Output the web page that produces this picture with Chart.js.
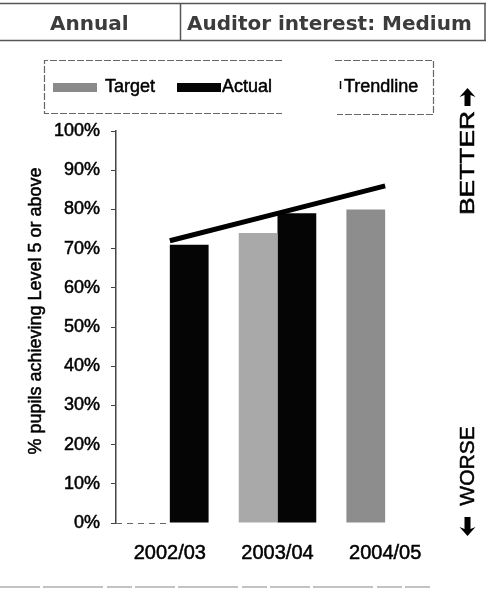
<!DOCTYPE html>
<html>
<head>
<meta charset="utf-8">
<script src="https://cdn.jsdelivr.net/npm/chart.js@4/dist/chart.umd.min.js"></script>
<style>
  html, body { margin: 0; padding: 0; background: #fff; }
  #wrap { width: 489px; height: 591px; position: relative; }
</style>
</head>
<body>
<div id="wrap"><canvas id="c" width="489" height="591"></canvas></div>
<script>
// School years shown on the x axis
const years = ['2002/03', '2003/04', '2004/05'];
// % pupils achieving Level 5 or above
const targetValues = [null, 74, 80];
const actualValues = [71, 79, null];
const trendValues = [72, 79, 86];
// y axis ticks
const yTicks = [0, 10, 20, 30, 40, 50, 60, 70, 80, 90, 100];

const frequency = 'Annual';
const interest = 'Auditor interest: Medium';
const yTitle = '% pupils achieving Level 5 or above';

const SANS = '"Liberation Sans", Arial, sans-serif';

// fill plus a hairline stroke so the lettering reads a little heavier
function heavyText(ctx, text, x, y, w) {
  ctx.lineWidth = w || 0.5;
  ctx.strokeStyle = ctx.fillStyle;
  ctx.strokeText(text, x, y);
  ctx.fillText(text, x, y);
}

// Header strip with frequency and auditor interest
const headerPlugin = {
  id: 'header',
  beforeDraw(chart) {
    const ctx = chart.ctx;
    ctx.save();
    ctx.strokeStyle = '#555';
    ctx.lineWidth = 1.5;
    ctx.beginPath();
    ctx.moveTo(0, 3.5); ctx.lineTo(486, 3.5);
    ctx.moveTo(0, 40.5); ctx.lineTo(486, 40.5);
    ctx.moveTo(180.5, 3.5); ctx.lineTo(180.5, 40.5);
    ctx.moveTo(485, 3.5); ctx.lineTo(485, 40.5);
    ctx.stroke();
    ctx.fillStyle = '#3c3c3c';
    ctx.font = 'bold 20px "DejaVu Sans", sans-serif';
    ctx.textBaseline = 'alphabetic';
    ctx.textAlign = 'left';
    ctx.fillText(frequency, 50, 30);
    ctx.fillText(interest, 187, 30);
    ctx.restore();
  }
};

// Legend box built from the dataset labels and colours
const legendPlugin = {
  id: 'boxLegend',
  afterDraw(chart) {
    const ctx = chart.ctx;
    const ds = chart.data.datasets;
    ctx.save();
    ctx.strokeStyle = '#666';
    ctx.lineWidth = 1.2;
    ctx.setLineDash([7, 2]);
    ctx.beginPath();
    ctx.moveTo(282, 60.5); ctx.lineTo(44.5, 60.5); ctx.lineTo(44.5, 113.5); ctx.lineTo(282, 113.5);
    ctx.moveTo(335, 60.5); ctx.lineTo(433.5, 60.5); ctx.lineTo(433.5, 114.5); ctx.lineTo(337, 114.5);
    ctx.stroke();
    ctx.setLineDash([]);
    const target = ds.find(d => d.label === 'Target');
    const actual = ds.find(d => d.label === 'Actual');
    const trend = ds.find(d => d.label === 'Trendline');
    ctx.fillStyle = target.legendColor;
    ctx.fillRect(53, 83, 44, 9);
    ctx.fillStyle = actual.backgroundColor;
    ctx.fillRect(177, 83, 44, 9);
    ctx.strokeStyle = trend.borderColor;
    ctx.lineWidth = 1.5;
    ctx.beginPath();
    ctx.moveTo(340.5, 81); ctx.lineTo(340.5, 89);
    ctx.stroke();
    ctx.fillStyle = '#000';
    ctx.font = '18px ' + SANS;
    ctx.textBaseline = 'middle';
    ctx.textAlign = 'left';
    heavyText(ctx, target.label, 105, 87);
    heavyText(ctx, actual.label, 222, 87);
    heavyText(ctx, trend.label, 344, 87);
    ctx.restore();
  }
};

function arrow(ctx, cx, tipY, baseY) {
  const dir = baseY > tipY ? 1 : -1;
  const headLen = 9, headHalf = 8, shaftHalf = 3;
  ctx.beginPath();
  ctx.moveTo(cx, tipY);
  ctx.lineTo(cx + headHalf, tipY + dir * headLen);
  ctx.lineTo(cx + shaftHalf, tipY + dir * headLen - dir * 2);
  ctx.lineTo(cx + shaftHalf, baseY);
  ctx.lineTo(cx - shaftHalf, baseY);
  ctx.lineTo(cx - shaftHalf, tipY + dir * headLen - dir * 2);
  ctx.lineTo(cx - headHalf, tipY + dir * headLen);
  ctx.closePath();
  ctx.fill();
}

// BETTER / WORSE direction labels, y axis title, dashed rules
const sidePlugin = {
  id: 'sideLabels',
  afterDraw(chart) {
    const ctx = chart.ctx;
    const area = chart.chartArea;
    ctx.save();
    ctx.fillStyle = '#000';
    ctx.font = '21px ' + SANS;
    ctx.textBaseline = 'middle';
    ctx.textAlign = 'center';

    ctx.save();
    ctx.translate(468, 163);
    ctx.rotate(-Math.PI / 2);
    const bw = ctx.measureText('BETTER').width;
    ctx.scale(104 / bw, 1);
    heavyText(ctx, 'BETTER', 0, 0);
    ctx.restore();

    ctx.save();
    ctx.translate(468, 466);
    ctx.rotate(-Math.PI / 2);
    heavyText(ctx, 'WORSE', 0, 0);
    ctx.restore();

    arrow(ctx, 467.5, 88, 106);
    arrow(ctx, 467.5, 536, 517);

    // y axis title
    ctx.save();
    ctx.translate(36, 311);
    ctx.rotate(-Math.PI / 2);
    ctx.font = '18px ' + SANS;
    heavyText(ctx, yTitle, 0, 0);
    ctx.restore();

    // zero line between the axis and the first bar
    const meta = chart.getDatasetMeta(chart.data.datasets.findIndex(d => d.label === 'Actual'));
    const firstBar = meta.data[0];
    const barLeft = firstBar.x - firstBar.width / 2;
    const yZero = chart.scales.y.getPixelForValue(0);
    ctx.strokeStyle = '#666';
    ctx.lineWidth = 1.2;
    ctx.setLineDash([6, 5]);
    ctx.beginPath();
    ctx.moveTo(area.left, yZero + 0.5);
    ctx.lineTo(barLeft - 2, yZero + 0.5);
    ctx.stroke();

    // bottom rule
    ctx.strokeStyle = '#b0b0b0';
    ctx.lineWidth = 1.5;
    ctx.setLineDash([40, 3, 60, 4, 25, 3]);
    ctx.beginPath();
    ctx.moveTo(0, 587); ctx.lineTo(430, 587);
    ctx.stroke();
    ctx.restore();
  }
};

new Chart(document.getElementById('c'), {
  type: 'bar',
  data: {
    labels: years,
    datasets: [
      {
        type: 'line',
        label: 'Trendline',
        data: trendValues,
        borderColor: '#000',
        borderWidth: 5,
        pointRadius: 0,
        tension: 0,
        fill: false,
        order: 0
      },
      {
        label: 'Target',
        data: targetValues,
        backgroundColor: ['#9c9c9c', '#a9a9a9', '#8d8d8d'],
        legendColor: '#8a8a8a',
        order: 1
      },
      {
        label: 'Actual',
        data: actualValues,
        backgroundColor: '#050505',
        order: 1
      }
    ]
  },
  options: {
    responsive: false,
    devicePixelRatio: 1,
    animation: false,
    events: [],
    layout: { padding: { top: 131, right: 50, left: 0, bottom: 0 } },
    datasets: {
      bar: { categoryPercentage: 0.72, barPercentage: 1.0 }
    },
    plugins: {
      legend: { display: false },
      title: { display: false },
      tooltip: { enabled: false }
    },
    scales: {
      x: {
        offset: true,
        grid: { display: false, drawTicks: false },
        border: { display: false },
        ticks: {
          color: '#000',
          textStrokeColor: '#000',
          textStrokeWidth: 0.5,
          font: { family: SANS, size: 20 },
          padding: 18,
          maxRotation: 0
        },
        afterFit(scale) { scale.height = 68; }
      },
      y: {
        min: 0,
        max: 100,
        afterBuildTicks(scale) { scale.ticks = yTicks.map(v => ({ value: v })); },
        grid: {
          drawOnChartArea: false,
          drawTicks: true,
          tickLength: 5,
          color: '#444',
          lineWidth: 1
        },
        border: { display: true, color: '#444', width: 1.5, dash: [6, 4] },
        ticks: {
          color: '#000',
          textStrokeColor: '#000',
          textStrokeWidth: 0.5,
          font: { family: SANS, size: 18 },
          padding: 11,
          callback: v => v + '%'
        },
        afterFit(scale) { scale.width = 116; }
      }
    }
  },
  plugins: [headerPlugin, legendPlugin, sidePlugin]
});
</script>
</body>
</html>
